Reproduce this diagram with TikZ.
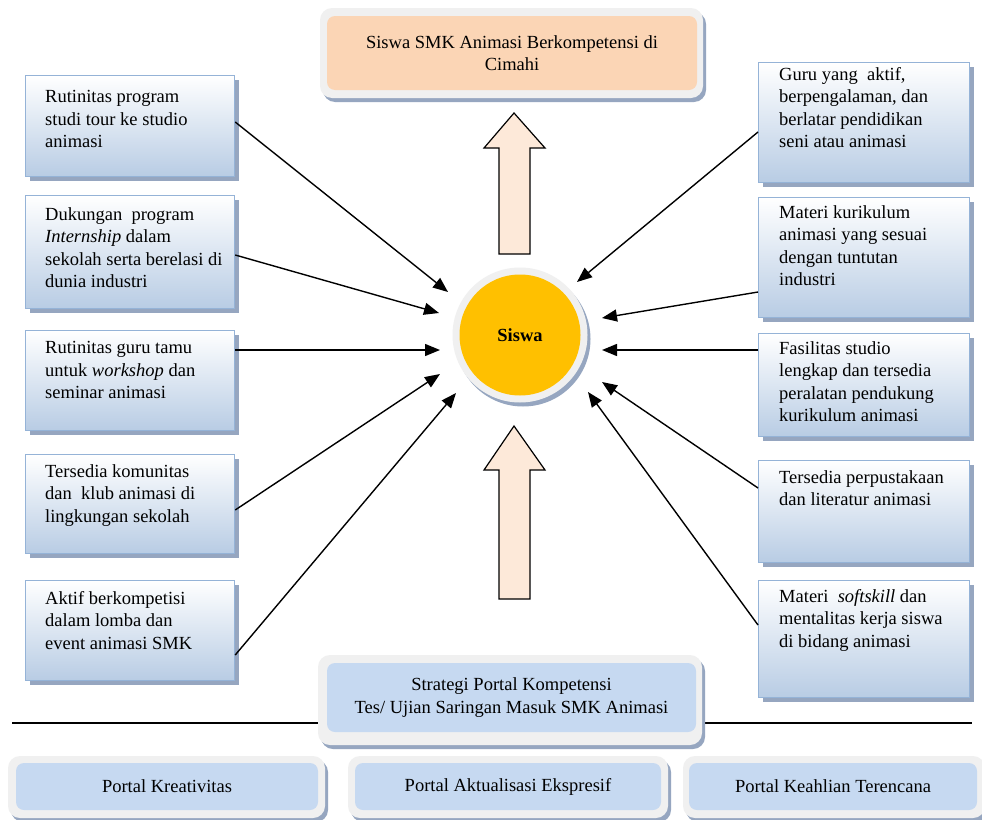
\documentclass[tikz,border=0pt]{standalone}
\usepackage{fontspec}
\setmainfont{Liberation Serif}
\usetikzlibrary{arrows.meta,shadows,calc}
\definecolor{peach}{RGB}{251,213,181}
\definecolor{lblue}{RGB}{198,217,241}
\definecolor{gblue}{RGB}{184,204,228}
\definecolor{bordblue}{RGB}{149,179,215}
\definecolor{arrowfill}{RGB}{253,233,217}
\definecolor{gold}{RGB}{255,192,0}
\definecolor{ringgrey}{RGB}{240,240,240}
\definecolor{shadowc}{RGB}{150,166,192}
\tikzset{
  txt/.style={font=\fontsize{18.5pt}{22.4pt}\selectfont, anchor=north west, align=left,
    inner sep=0pt, execute at begin node=\strut, yshift=15.68pt},
  ctxt/.style={font=\fontsize{18.5pt}{22.4pt}\selectfont, align=center},
  sbox/.style={draw=bordblue, line width=1.2pt, top color=white, bottom color=gblue,
    minimum width=209pt, minimum height=#1, anchor=north west, inner sep=0pt,
    drop shadow={shadow xshift=4pt, shadow yshift=-4pt, fill=shadowc, opacity=1}},
  outerbox/.style={fill=ringgrey, rounded corners=12pt, inner sep=0pt,
    drop shadow={shadow xshift=3pt, shadow yshift=-4pt, fill=shadowc, opacity=1}},
  innerbox/.style={rounded corners=8pt, inner sep=0pt},
  conn/.style={line width=1.4pt, -{Triangle[length=15pt,width=12pt]}},
  bigarrow/.style={draw=black, line width=1.2pt, fill=arrowfill, line join=miter}
}
\begin{document}
\begin{tikzpicture}[x=1pt,y=-1pt]
\clip (0,0) rectangle (982,819);
\fill[white] (0,0) rectangle (982,819);

% top box
\node[outerbox, minimum width=383pt, minimum height=90pt] (topo) at (511.5,53) {};
\node[innerbox, fill=peach, minimum width=370pt, minimum height=74pt, ctxt] (top) at (512,53) {Siswa SMK Animasi Berkompetensi di\\Cimahi};

% left boxes
\node[sbox=101pt] (l1) at (25,75) {};
\node[txt] (l1t) at (45,106) {Rutinitas program\\studi tour ke studio\\animasi};
\node[sbox=113pt] (l2) at (25,195) {};
\node[txt] (l2t) at (45,223) {Dukungan\ \ program\\\textit{Internship} dalam\\sekolah serta berelasi di\\dunia industri};
\node[sbox=100pt] (l3) at (25,330) {};
\node[txt] (l3t) at (45,357) {Rutinitas guru tamu\\untuk \textit{workshop} dan\\seminar animasi};
\node[sbox=99pt] (l4) at (25,454) {};
\node[txt] (l4t) at (45,480) {Tersedia komunitas\\dan\ \ klub animasi di\\lingkungan sekolah};
\node[sbox=100pt] (l5) at (25,580) {};
\node[txt] (l5t) at (45,607) {Aktif berkompetisi\\dalam lomba dan\\event animasi SMK};

% right boxes
\node[sbox=120pt, minimum width=211pt] (r1) at (758,62) {};
\node[txt] (r1t) at (779,83) {Guru yang\ \ aktif,\\berpengalaman, dan\\berlatar pendidikan\\seni atau animasi};
\node[sbox=120pt, minimum width=211pt] (r2) at (758,197) {};
\node[txt] (r2t) at (779,221) {Materi kurikulum\\animasi yang sesuai\\dengan tuntutan\\industri};
\node[sbox=103pt, minimum width=211pt] (r3) at (758,333) {};
\node[txt] (r3t) at (779,357) {Fasilitas studio\\lengkap dan tersedia\\peralatan pendukung\\kurikulum animasi};
\node[sbox=102pt, minimum width=211pt] (r4) at (758,460) {};
\node[txt] (r4t) at (779,486) {Tersedia perpustakaan\\dan literatur animasi};
\node[sbox=117pt, minimum width=211pt] (r5) at (758,580) {};
\node[txt] (r5t) at (779,605) {Materi\ \ \textit{softskill} dan\\mentalitas kerja siswa\\di bidang animasi};

% centre circle
\node[circle, fill=ringgrey, minimum size=135pt, inner sep=0pt,
  drop shadow={shadow xshift=3pt, shadow yshift=-4pt, fill=shadowc, opacity=1}] (ring) at (520,335) {};
\node[circle, fill=gold, minimum size=121pt, inner sep=0pt, font=\fontsize{18.5pt}{20pt}\selectfont\bfseries] (siswa) at (520,335) {Siswa};

% big arrows
\draw[bigarrow] (514,113) -- (545,148) -- (530,148) -- (530,254) -- (499,254) -- (499,148) -- (484,148) -- cycle;
\draw[bigarrow] (514,426) -- (545,470) -- (530,470) -- (530,599) -- (499,599) -- (499,470) -- (484,470) -- cycle;

% connector tips
\coordinate (tl1) at (448,292);
\coordinate (tl2) at (439,313);
\coordinate (tl3) at (440,350);
\coordinate (tl4) at (440,374);
\coordinate (tl5) at (456,393);
\coordinate (tr1) at (577,282);
\coordinate (tr2) at (602,318);
\coordinate (tr3) at (602,350);
\coordinate (tr4) at (602,382);
\coordinate (tr5) at (588,392);

\draw[conn] (l1.east |- 0,122) -- (tl1);
\draw[conn] (l2.east |- 0,255) -- (tl2);
\draw[conn] (l3.east |- 0,350) -- (tl3);
\draw[conn] (l4.east |- 0,510) -- (tl4);
\draw[conn] (l5.east |- 0,655) -- (tl5);
\draw[conn] (r1.west |- 0,132) -- (tr1);
\draw[conn] (r2.west |- 0,292) -- (tr2);
\draw[conn] (r3.west |- 0,350) -- (tr3);
\draw[conn] (r4.west |- 0,488) -- (tr4);
\draw[conn] (r5.west |- 0,625) -- (tr5);

% separator line
\draw[line width=1.2pt] (12,723) -- (972,723);

% strategy box
\node[outerbox, minimum width=384pt, minimum height=90pt] (strato) at (510,700) {};
\node[innerbox, fill=lblue, minimum width=369pt, minimum height=69pt, ctxt] (strat) at (511.5,697.5) {Strategi Portal Kompetensi\\Tes/ Ujian Saringan Masuk SMK Animasi};

% bottom portals
\node[outerbox, minimum width=317pt, minimum height=62pt] (p1o) at (166.5,787) {};
\node[innerbox, fill=lblue, minimum width=302pt, minimum height=47pt, ctxt] (p1) at (167,786.5) {Portal Kreativitas};
\node[outerbox, minimum width=320pt, minimum height=62pt] (p2o) at (508,787) {};
\node[innerbox, fill=lblue, minimum width=306pt, minimum height=47pt, ctxt] (p2) at (508,786.5) {Portal Aktualisasi Ekspresif};
\node[outerbox, minimum width=302pt, minimum height=62pt] (p3o) at (834,787) {};
\node[innerbox, fill=lblue, minimum width=288pt, minimum height=47pt, ctxt] (p3) at (833,786.5) {Portal Keahlian Terencana};
\end{tikzpicture}
\end{document}
